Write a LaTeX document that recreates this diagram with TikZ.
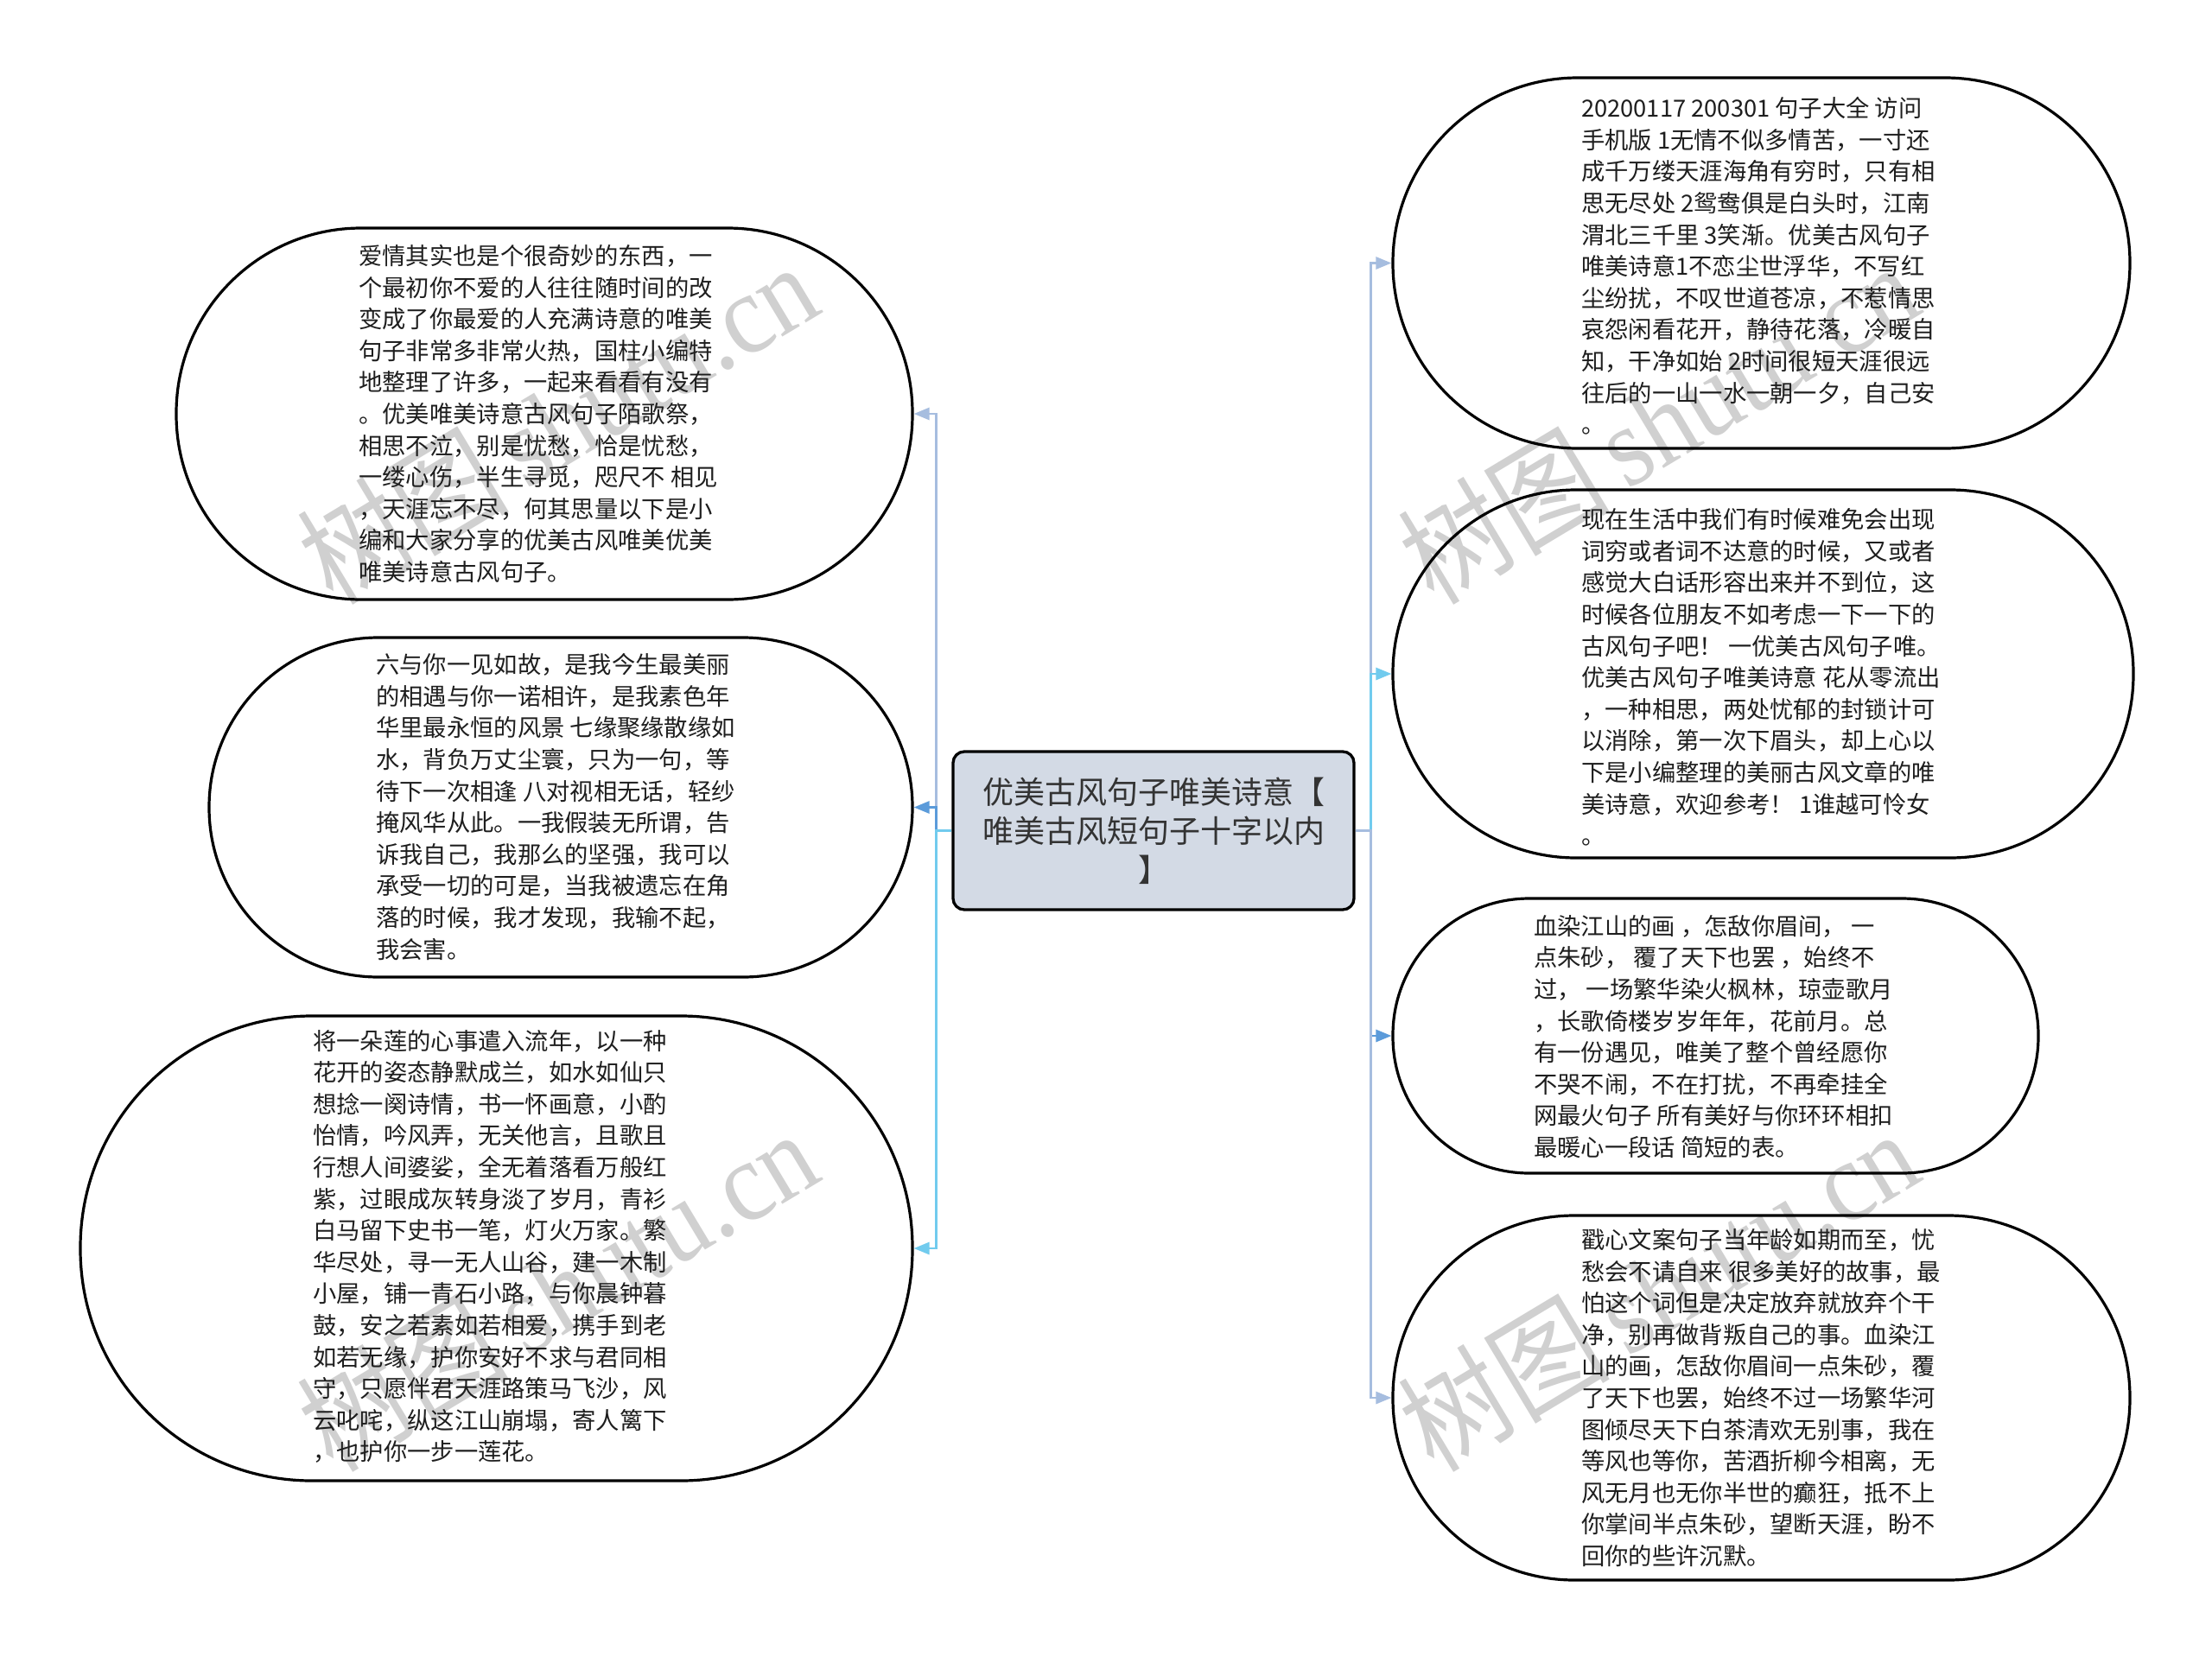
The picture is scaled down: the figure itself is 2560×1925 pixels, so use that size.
\documentclass[tikz,border=0pt]{standalone}
\usepackage{fontspec}
\setmainfont{Noto Sans CJK SC}
\newfontfamily\wmlat{Liberation Serif}
\usetikzlibrary{shapes.geometric,arrows.meta}
\definecolor{textc}{HTML}{1E1E1E}
\definecolor{ctext}{HTML}{333333}
\definecolor{boxfill}{HTML}{D3DAE5}
\definecolor{steel}{HTML}{A6BDDF}
\definecolor{midblue}{HTML}{5B9BDA}
\definecolor{skyblue}{HTML}{71CBEE}
\definecolor{wm}{HTML}{D0D0D0}
\tikzset{
  bubble/.style={rectangle, draw=black, line width=3.2pt, inner sep=0pt},
  txt/.style={anchor=west, align=left, font=\fontsize{27.3}{36.6}\selectfont, text=textc, inner sep=0pt},
  link/.style={line width=2.8pt, -{Triangle[length=18pt,width=14pt]}},
  hub/.style={draw=black, line width=3.3pt, fill=boxfill, rounded corners=13pt, align=center,
    font=\fontsize{36}{45}\selectfont, text=ctext, inner sep=0pt},
  wmark/.style={text=wm, rotate=31, yscale=1.1, transform shape, font=\fontsize{120}{130}\selectfont, inner sep=0pt}
}
\begin{document}
\begin{tikzpicture}[x=1pt,y=-1pt]
\useasboundingbox (0,0) rectangle (2560,1925);
\fill[white] (0,0) rectangle (2560,1925);

% watermarks
\node[wmark] (w1) at (645,488) {树图\,{\wmlat shutu.cn}};
\node[wmark] (w2) at (645,1492) {树图\,{\wmlat shutu.cn}};
\node[wmark] (w3) at (1919,488) {树图\,{\wmlat shutu.cn}};
\node[wmark] (w4) at (1919,1492) {树图\,{\wmlat shutu.cn}};

% center
\node[hub, minimum width=464, minimum height=183] (c) at (1335,961.5)
  {优美古风句子唯美诗意【\\唯美古风短句子十字以内\\】};

% left bubbles
\node[bubble, minimum width=852, minimum height=430, rounded corners=214pt] (l1) at (630,479) {};
\node[bubble, minimum width=814, minimum height=393, rounded corners=196pt] (l2) at (649,934.5) {};
\node[bubble, minimum width=963, minimum height=538, rounded corners=268pt] (l3) at (574.5,1445) {};
% right bubbles
\node[bubble, minimum width=853, minimum height=429, rounded corners=214pt] (r1) at (2038.5,304.5) {};
\node[bubble, minimum width=857, minimum height=426, rounded corners=212pt] (r2) at (2040.5,780) {};
\node[bubble, minimum width=747, minimum height=318, rounded corners=158pt] (r3) at (1985.5,1199) {};
\node[bubble, minimum width=853, minimum height=422, rounded corners=210pt] (r4) at (2038.5,1618) {};

% texts
\node[txt] (t1) at (415,479) {爱情其实也是个很奇妙的东西，一\\个最初你不爱的人往往随时间的改\\变成了你最爱的人充满诗意的唯美\\句子非常多非常火热，国柱小编特\\地整理了许多，一起来看看有没有\\。优美唯美诗意古风句子陌歌祭，\\相思不泣，别是忧愁，恰是忧愁，\\一缕心伤，半生寻觅，咫尺不 相见\\，天涯忘不尽，何其思量以下是小\\编和大家分享的优美古风唯美优美\\唯美诗意古风句子。};
\node[txt] (t2) at (435,934) {六与你一见如故，是我今生最美丽\\的相遇与你一诺相许，是我素色年\\华里最永恒的风景 七缘聚缘散缘如\\水，背负万丈尘寰，只为一句，等\\待下一次相逢 八对视相无话，轻纱\\掩风华从此。一我假装无所谓，告\\诉我自己，我那么的坚强，我可以\\承受一切的可是，当我被遗忘在角\\落的时候，我才发现，我输不起，\\我会害。};
\node[txt] (t3) at (362,1443) {将一朵莲的心事遣入流年，以一种\\花开的姿态静默成兰，如水如仙只\\想捻一阕诗情，书一怀画意，小酌\\怡情，吟风弄，无关他言，且歌且\\行想人间婆娑，全无着落看万般红\\紫，过眼成灰转身淡了岁月，青衫\\白马留下史书一笔，灯火万家。繁\\华尽处，寻一无人山谷，建一木制\\小屋，铺一青石小路，与你晨钟暮\\鼓，安之若素如若相爱，携手到老\\如若无缘，护你安好不求与君同相\\守，只愿伴君天涯路策马飞沙，风\\云叱咤，纵这江山崩塌，寄人篱下\\，也护你一步一莲花。};
\node[txt] (t4) at (1830,308) {20200117 200301 句子大全 访问\\手机版 1无情不似多情苦，一寸还\\成千万缕天涯海角有穷时，只有相\\思无尽处 2鸳鸯俱是白头时，江南\\渭北三千里 3笑渐。优美古风句子\\唯美诗意1不恋尘世浮华，不写红\\尘纷扰，不叹世道苍凉，不惹情思\\哀怨闲看花开，静待花落，冷暖自\\知，干净如始 2时间很短天涯很远\\往后的一山一水一朝一夕，自己安\\。};
\node[txt] (t5) at (1830,784) {现在生活中我们有时候难免会出现\\词穷或者词不达意的时候，又或者\\感觉大白话形容出来并不到位，这\\时候各位朋友不如考虑一下一下的\\古风句子吧！ 一优美古风句子唯。\\优美古风句子唯美诗意 花从零流出\\，一种相思，两处忧郁的封锁计可\\以消除，第一次下眉头，却上心以\\下是小编整理的美丽古风文章的唯\\美诗意，欢迎参考！ 1谁越可怜女\\。};
\node[txt] (t6) at (1775,1200) {血染江山的画 ，怎敌你眉间， 一\\点朱砂， 覆了天下也罢 ，始终不\\过， 一场繁华染火枫林，琼壶歌月\\，长歌倚楼岁岁年年，花前月。总\\有一份遇见，唯美了整个曾经愿你\\不哭不闹，不在打扰，不再牵挂全\\网最火句子 所有美好与你环环相扣\\最暖心一段话 简短的表。};
\node[txt] (t7) at (1830,1618) {戳心文案句子当年龄如期而至，忧\\愁会不请自来 很多美好的故事，最\\怕这个词但是决定放弃就放弃个干\\净，别再做背叛自己的事。血染江\\山的画，怎敌你眉间一点朱砂，覆\\了天下也罢，始终不过一场繁华河\\图倾尽天下白茶清欢无别事，我在\\等风也等你，苦酒折柳今相离，无\\风无月也无你半世的癫狂，抵不上\\你掌间半点朱砂，望断天涯，盼不\\回你的些许沉默。};

% connectors
\draw[link, steel] (c.west) -- ++(-18,0) |- (l1.east);
\draw[link, midblue] (c.west) -- ++(-18,0) |- (l2.east);
\draw[link, skyblue] (c.west) -- ++(-18,0) |- (l3.east);
\draw[link, steel] (c.east) -- ++(18,0) |- (r1.west);
\draw[link, skyblue] (c.east) -- ++(18,0) |- (r2.west);
\draw[link, midblue] (c.east) -- ++(18,0) |- (r3.west);
\draw[link, steel] (c.east) -- ++(18,0) |- (r4.west);
\end{tikzpicture}
\end{document}
